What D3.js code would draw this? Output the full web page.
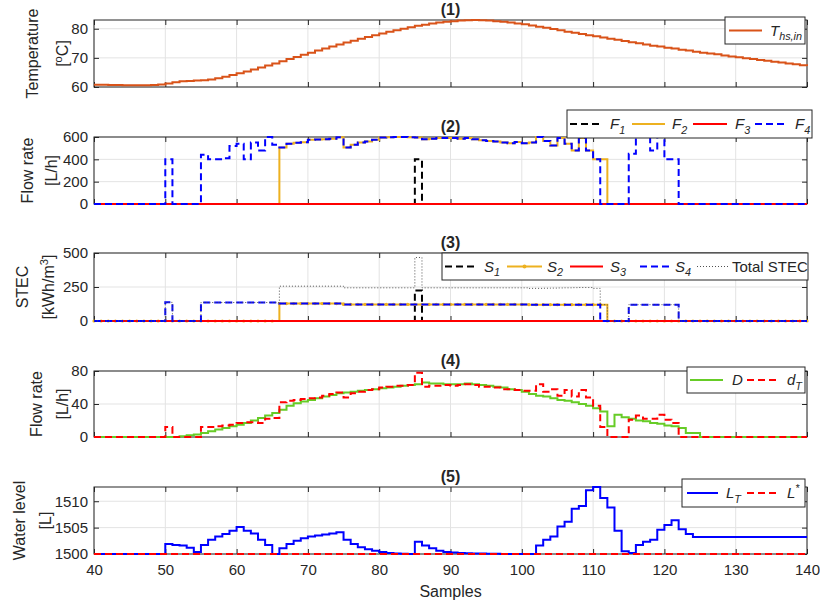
<!DOCTYPE html>
<html><head><meta charset="utf-8">
<script src="https://cdn.jsdelivr.net/npm/d3@7"></script>
<style>
body{margin:0;background:#fff;}
text{font-family:"Liberation Sans",Arial,Helvetica,sans-serif;fill:#262626;}
</style>
</head><body>
<svg id="chart" width="820" height="609"></svg>
<script>
// ---------------- DATA (samples 40..140) ----------------
const samples = d3.range(40, 141);
const xTickValues = [40,50,60,70,80,90,100,110,120,130,140];

const tempHsIn = [
 60.8,60.8,60.7,60.7,60.6,60.6,60.6,60.6,60.7,60.9,
 61.2,61.6,62.0,62.1,62.2,62.3,62.6,63.0,63.5,64.1,
 64.7,65.3,66.0,66.7,67.4,68.1,68.8,69.6,70.3,71.1,
 71.8,72.5,73.2,73.9,74.6,75.3,75.9,76.6,77.2,77.8,
 78.4,79.0,79.5,80.0,80.5,81.0,81.4,81.8,82.1,82.4,
 82.6,82.8,82.9,83.0,82.9,82.8,82.6,82.4,82.1,81.8,
 81.5,81.1,80.7,80.3,79.9,79.5,79.0,78.6,78.2,77.8,
 77.4,77.0,76.6,76.2,75.8,75.4,75.0,74.6,74.2,73.9,
 73.5,73.2,72.8,72.5,72.1,71.8,71.5,71.2,70.8,70.5,
 70.2,69.9,69.6,69.3,69.0,68.7,68.4,68.1,67.8,67.5,
 67.2];

const flowF1 = [
 0,0,0,0,0,0,0,0,0,0, 0,0,0,0,0,0,0,0,0,0, 0,0,0,0,0,0,0,0,0,0,
 0,0,0,0,0,0,0,0,0,0, 0,0,0,0,0,400,0,0,0,0, 0,0,0,0,0,0,0,0,0,0,
 0,0,0,0,0,0,0,0,0,0, 0,0,0,0,0,0,0,0,0,0, 0,0,0,0,0,0,0,0,0,0,
 0,0,0,0,0,0,0,0,0,0, 0];
const flowF2 = [
 0,0,0,0,0,0,0,0,0,0,
 0,0,0,0,0,0,0,0,0,0,
 0,0,0,0,0,0,505,540,548,552,
 575,578,580,585,598,505,530,550,560,575,
 595,598,600,600,598,595,580,585,590,592,
 590,585,590,580,570,565,560,550,545,555,
 545,550,600,565,525,590,540,480,590,480,
 400,400,0,0,0,0,0,0,0,0,
 0,0,0,0,0,0,0,0,0,0,
 0,0,0,0,0,0,0,0,0,0,
 0];
const flowF3 = [
 0,0,0,0,0,0,0,0,0,0, 0,0,0,0,0,0,0,0,0,0, 0,0,0,0,0,0,0,0,0,0,
 0,0,0,0,0,0,0,0,0,0, 0,0,0,0,0,0,0,0,0,0, 0,0,0,0,0,0,0,0,0,0,
 0,0,0,0,0,0,0,0,0,0, 0,0,0,0,0,0,0,0,0,0, 0,0,0,0,0,0,0,0,0,0,
 0,0,0,0,0,0,0,0,0,0, 0];
const flowF4 = [
 0,0,0,0,0,0,0,0,0,0,
 400,0,0,0,0,440,400,400,410,520,
 540,400,550,480,600,530,505,540,548,552,
 575,578,580,585,598,505,530,550,560,575,
 595,598,600,600,598,595,580,585,590,592,
 590,585,590,580,570,565,560,550,545,555,
 545,550,600,565,525,590,540,480,590,480,
 400,0,0,0,0,450,600,600,480,600,
 400,400,0,0,0,0,0,0,0,0,
 0,0,0,0,0,0,0,0,0,0,
 0];

const stecS1 = [
 0,0,0,0,0,0,0,0,0,0, 0,0,0,0,0,0,0,0,0,0, 0,0,0,0,0,0,0,0,0,0,
 0,0,0,0,0,0,0,0,0,0, 0,0,0,0,0,225,0,0,0,0, 0,0,0,0,0,0,0,0,0,0,
 0,0,0,0,0,0,0,0,0,0, 0,0,0,0,0,0,0,0,0,0, 0,0,0,0,0,0,0,0,0,0,
 0,0,0,0,0,0,0,0,0,0, 0];
const stecS2 = [
 0,0,0,0,0,0,0,0,0,0,
 0,0,0,0,0,0,0,0,0,0,
 0,0,0,0,0,0,128,128,128,128,
 128,128,128,128,128,122,122,122,122,122,
 122,122,122,122,122,122,122,122,122,122,
 122,122,122,122,122,122,122,122,122,122,
 122,120,120,120,120,120,120,120,120,120,
 120,120,0,0,0,0,0,0,0,0,
 0,0,0,0,0,0,0,0,0,0,
 0,0,0,0,0,0,0,0,0,0,
 0];
const stecS3 = [
 0,0,0,0,0,0,0,0,0,0, 0,0,0,0,0,0,0,0,0,0, 0,0,0,0,0,0,0,0,0,0,
 0,0,0,0,0,0,0,0,0,0, 0,0,0,0,0,0,0,0,0,0, 0,0,0,0,0,0,0,0,0,0,
 0,0,0,0,0,0,0,0,0,0, 0,0,0,0,0,0,0,0,0,0, 0,0,0,0,0,0,0,0,0,0,
 0,0,0,0,0,0,0,0,0,0, 0];
const stecS4 = [
 0,0,0,0,0,0,0,0,0,0,
 137,0,0,0,0,136,136,136,136,136,
 136,136,136,136,136,136,128,128,128,128,
 128,128,128,128,128,122,122,122,122,122,
 122,122,122,122,122,122,122,122,122,122,
 122,122,122,122,122,122,122,122,122,122,
 122,120,120,120,120,120,120,120,120,120,
 120,0,0,0,0,120,120,120,120,120,
 120,120,0,0,0,0,0,0,0,0,
 0,0,0,0,0,0,0,0,0,0,
 0];
const stecTotal = [
 0,0,0,0,0,0,0,0,0,0,
 137,0,0,0,0,136,136,136,136,136,
 136,136,136,136,136,136,256,256,256,256,
 256,256,256,256,256,244,244,244,244,244,
 244,244,244,244,244,467,244,244,244,244,
 244,244,244,244,244,244,244,244,244,244,
 244,240,240,241,242,243,244,245,246,246,
 240,120,0,0,0,120,120,120,120,120,
 120,120,0,0,0,0,0,0,0,0,
 0,0,0,0,0,0,0,0,0,0,
 0];

const demandD = [
 0,0,0,0,0,0,0,0,0,0,
 0,0,1,2,3,5,7,9,11,13,
 15,17,20,23,26,29,33,38,41,43,
 45,47,49,51,53,54,55,56,57,58,
 59,60,61,62,63,64,66,65,65,64,
 64,64,65,64,63,62,61,60,58,57,
 55,52,50,49,47,45,44,42,40,38,
 35,31,13,27,24,22,20,19,17,16,
 14,13,11,5,5,0,0,0,0,0,
 0,0,0,0,0,0,0,0,0,0,
 0];
const demandDT = [
 0,0,0,0,0,0,0,0,0,0,
 12,0,0,0,0,12,12,13,14,15,
 17,18,18,17,22,23,42,44,45,46,
 47,48,50,52,54,48,53,55,57,58,
 60,61,62,62,63,78,61,62,62,63,
 62,63,64,63,61,61,60,58,58,57,
 56,56,64,55,58,50,57,49,57,48,
 38,12,0,0,0,21,26,22,22,27,
 21,17,0,0,0,0,0,0,0,0,
 0,0,0,0,0,0,0,0,0,0,
 0];

const levelLT = [
 1500,1500,1500,1500,1500,1500,1500,1500,1500,1500,
 1501.9,1501.7,1501.6,1501.2,1500.4,1501.7,1502.7,1503.3,1503.8,1504.4,
 1505.1,1504.4,1503.9,1502.7,1501.7,1500.0,1501.1,1501.9,1502.5,1503.0,
 1503.3,1503.5,1503.7,1503.9,1504.1,1502.7,1501.9,1501.3,1500.9,1500.6,
 1500.4,1500.2,1500.1,1500.05,1500.0,1502.3,1501.6,1501.1,1500.6,1500.4,
 1500.3,1500.2,1500.15,1500.1,1500.1,1500.05,1500.05,1500,1500,1500,
 1500,1500,1501.6,1502.7,1503.3,1505.2,1506.1,1508.6,1509.1,1512.1,
 1512.7,1510.6,1508.8,1504.4,1500.5,1500.2,1501.7,1502.3,1502.7,1504.6,
 1505.5,1506.4,1504.7,1503.8,1503.2,1503.2,1503.2,1503.2,1503.2,1503.2,
 1503.2,1503.2,1503.2,1503.2,1503.2,1503.2,1503.2,1503.2,1503.2,1503.2,
 1503.2];
const levelRef = [
 1500,1500,1500,1500,1500,1500,1500,1500,1500,1500, 1500,1500,1500,1500,1500,1500,1500,1500,1500,1500,
 1500,1500,1500,1500,1500,1500,1500,1500,1500,1500, 1500,1500,1500,1500,1500,1500,1500,1500,1500,1500,
 1500,1500,1500,1500,1500,1500,1500,1500,1500,1500, 1500,1500,1500,1500,1500,1500,1500,1500,1500,1500,
 1500,1500,1500,1500,1500,1500,1500,1500,1500,1500, 1500,1500,1500,1500,1500,1500,1500,1500,1500,1500,
 1500,1500,1500,1500,1500,1500,1500,1500,1500,1500, 1500,1500,1500,1500,1500,1500,1500,1500,1500,1500,
 1500];

const yTicks1 = [60,70,80];
const yTicks2 = [0,200,400,600];
const yTicks3 = [0,250,500];
const yTicks4 = [0,40,80];
const yTicks5 = [1500,1505,1510];

// ---------------- STYLE / LAYOUT ----------------
const C = {orange:"#D95319", yellow:"#EDB120", red:"#FF0000", blue:"#0000FF", black:"#000000", green:"#66CC26", gray:"#505050"};
const DASH = "7,4";
const X0 = 94, X1 = 807;
const svg = d3.select("#chart");
const x = d3.scaleLinear().domain([40,140]).range([X0,X1]);

const panels = [
 {top:20, bottom:87, domain:[60,83], ticks:yTicks1, title:"(1)", lab:[38,68],
  label:["Temperature", [["[",""],["o","sup"],["C]",""]]],
  series:[{v:tempHsIn, color:C.orange, w:2}],
  legend:{x:725,y:17,w:80,h:27, items:[{x1:729,x2:762,tx:770,color:C.orange,w:2, txt:[["T",""],["hs,in","sub"]]}]}},
 {top:137, bottom:204, domain:[0,600], ticks:yTicks2, title:"(2)", lab:[33,57],
  label:["Flow rate", [["[L/h]",""]]],
  series:[{v:flowF1,color:C.black,w:2,dash:DASH},{v:flowF2,color:C.yellow,w:2},{v:flowF3,color:C.red,w:2},{v:flowF4,color:C.blue,w:2,dash:DASH}],
  legend:{x:567,y:110,w:245,h:28, items:[
   {x1:570,x2:603,tx:610,color:C.black,w:2,dash:DASH,txt:[["F",""],["1","sub"]]},
   {x1:632,x2:665,tx:672,color:C.yellow,w:2,txt:[["F",""],["2","sub"]]},
   {x1:693,x2:727,tx:735,color:C.red,w:2,txt:[["F",""],["3","sub"]]},
   {x1:755,x2:788,tx:795,color:C.blue,w:2,dash:DASH,txt:[["F",""],["4","sub"]]}]}},
 {top:253, bottom:321, domain:[0,500], ticks:yTicks3, title:"(3)", lab:[28,54],
  label:["STEC", [["[kWh/m",""],["3","sup"],["]",""]]],
  series:[{v:stecS1,color:C.black,w:2,dash:DASH},{v:stecS2,color:C.yellow,w:2,dots:true},{v:stecS3,color:C.red,w:2},{v:stecS4,color:C.blue,w:2,dash:DASH},{v:stecTotal,color:C.gray,w:1,dash:"1,2"}],
  legend:{x:442,y:253,w:366,h:27, items:[
   {x1:445,x2:478,tx:484,color:C.black,w:2,dash:DASH,txt:[["S",""],["1","sub"]]},
   {x1:507,x2:542,tx:547,color:C.yellow,w:2,dots:true,txt:[["S",""],["2","sub"]]},
   {x1:570,x2:603,tx:610,color:C.red,w:2,txt:[["S",""],["3","sub"]]},
   {x1:640,x2:673,tx:675,color:C.blue,w:2,dash:DASH,txt:[["S",""],["4","sub"]]},
   {x1:697,x2:728,tx:732,color:C.gray,w:1,dash:"1,2",plain:"Total STEC"}]}},
 {top:371, bottom:437, domain:[0,80], ticks:yTicks4, title:"(4)", lab:[42,68],
  label:["Flow rate", [["[L/h]",""]]],
  series:[{v:demandD,color:C.green,w:2},{v:demandDT,color:C.red,w:2,dash:DASH}],
  legend:{x:687,y:367,w:118,h:26, items:[
   {x1:690,x2:723,tx:732,color:C.green,w:2,txt:[["D",""]]},
   {x1:747,x2:778,tx:787,color:C.red,w:2,dash:DASH,txt:[["d",""],["T","sub"]]}]}},
 {top:487, bottom:554, domain:[1500,d3.max(levelLT)], ticks:yTicks5, title:"(5)", lab:[25,51],
  label:["Water level", [["[L]",""]]],
  series:[{v:levelLT,color:C.blue,w:2},{v:levelRef,color:C.red,w:2,dash:DASH}],
  legend:{x:682,y:479,w:123,h:28, items:[
   {x1:687,x2:718,tx:726,color:C.blue,w:2,txt:[["L",""],["T","sub"]]},
   {x1:747,x2:780,tx:787,color:C.red,w:2,dash:DASH,txt:[["L",""],["*","sup"]]}]}}
];

function addRich(textSel, parts, base, italic){
  let cum = 0;
  parts.forEach(([s,kind])=>{
    const t = textSel.append("tspan").text(s);
    if(italic) t.attr("font-style","italic");
    let target = 0, fs = base;
    if(kind==="sub"){ target = base*0.3; fs = base*0.72; }
    else if(kind==="sup"){ target = -base*0.4; fs = base*0.7; }
    t.attr("font-size",fs).attr("dy", target - cum);
    cum = target;
  });
}

panels.forEach((p,i)=>{
  const g = svg.append("g");
  const y = d3.scaleLinear().domain(p.domain).range([p.bottom,p.top]);
  const clipId = "clip"+i;
  svg.append("clipPath").attr("id",clipId).append("rect")
     .attr("x",X0-2).attr("y",p.top-2).attr("width",X1-X0+4).attr("height",p.bottom-p.top+4);

  // grid
  g.append("g").selectAll("line").data(xTickValues).join("line")
    .attr("x1",d=>x(d)).attr("x2",d=>x(d)).attr("y1",p.top).attr("y2",p.bottom)
    .attr("stroke","#e3e3e3").attr("stroke-width",1);
  g.append("g").selectAll("line").data(p.ticks).join("line")
    .attr("x1",X0).attr("x2",X1).attr("y1",d=>y(d)).attr("y2",d=>y(d))
    .attr("stroke","#e3e3e3").attr("stroke-width",1);

  // axes box + ticks (inside), drawn beneath the data
  const last = i===panels.length-1;
  g.append("rect").attr("x",X0).attr("y",p.top).attr("width",X1-X0).attr("height",p.bottom-p.top)
    .attr("fill","none").attr("stroke","#262626").attr("stroke-width",1);
  const axB = g.append("g").attr("transform",`translate(0,${p.bottom})`)
    .call(d3.axisBottom(x).tickValues(xTickValues).tickSize(-5).tickSizeOuter(0).tickPadding(10)
      .tickFormat(last? d3.format("d") : ()=>""));
  const axT = g.append("g").attr("transform",`translate(0,${p.top})`)
    .call(d3.axisTop(x).tickValues(xTickValues).tickSize(-5).tickSizeOuter(0).tickFormat(()=>""));
  const axL = g.append("g").attr("transform",`translate(${X0},0)`)
    .call(d3.axisLeft(y).tickValues(p.ticks).tickSize(-5).tickSizeOuter(0).tickPadding(6).tickFormat(d3.format("d")));
  const axR = g.append("g").attr("transform",`translate(${X1},0)`)
    .call(d3.axisRight(y).tickValues(p.ticks).tickSize(-5).tickSizeOuter(0).tickFormat(()=>""));
  [axB,axT,axL,axR].forEach(a=>{
    a.select(".domain").remove();
    a.selectAll(".tick line").attr("stroke","#262626");
    a.selectAll(".tick text").attr("fill","#262626").attr("font-size",15)
      .attr("font-family","Liberation Sans, Arial, sans-serif");
  });

  // series
  const dg = g.append("g").attr("clip-path",`url(#${clipId})`);
  p.series.forEach(s=>{
    const line = d3.line().x((d,j)=>x(samples[j])).y(d=>y(d)).curve(d3.curveStepAfter);
    dg.append("path").datum(s.v).attr("d",line).attr("fill","none")
      .attr("stroke",s.color).attr("stroke-width",s.w)
      .attr("stroke-dasharray",s.dash||null);
    if(s.dots){
      dg.append("g").selectAll("circle").data(s.v).join("circle")
        .attr("cx",(d,j)=>x(samples[j])).attr("cy",d=>y(d)).attr("r",1.6).attr("fill",s.color);
    }
  });

  // title
  g.append("text").attr("x",(X0+X1)/2).attr("y",p.top-5).attr("text-anchor","middle")
    .attr("font-weight","bold").attr("font-size",16).text(p.title);

  // y label (two lines)
  const cy = (p.top+p.bottom)/2;
  g.append("text").attr("transform",`translate(${p.lab[0]},${cy}) rotate(-90)`)
    .attr("text-anchor","middle").attr("font-size",16).text(p.label[0]);
  const t2 = g.append("text").attr("transform",`translate(${p.lab[1]},${cy}) rotate(-90)`)
    .attr("text-anchor","middle").attr("font-size",16);
  addRich(t2, p.label[1], 16, false);

  // legend
  const L = p.legend;
  const lg = g.append("g");
  lg.append("rect").attr("x",L.x).attr("y",L.y).attr("width",L.w).attr("height",L.h)
    .attr("fill","#fff").attr("stroke","#262626").attr("stroke-width",1);
  const ly = L.y + L.h/2;
  L.items.forEach(it=>{
    lg.append("line").attr("x1",it.x1).attr("x2",it.x2).attr("y1",ly).attr("y2",ly)
      .attr("stroke",it.color).attr("stroke-width",it.w).attr("stroke-dasharray",it.dash||null);
    if(it.dots) lg.append("circle").attr("cx",(it.x1+it.x2)/2).attr("cy",ly).attr("r",2).attr("fill",it.color);
    const tt = lg.append("text").attr("x",it.tx).attr("y",ly+5).attr("font-size",15);
    if(it.plain) tt.text(it.plain);
    else addRich(tt, it.txt, 15, true);
  });
});

// x-axis label
svg.append("text").attr("x",(X0+X1)/2).attr("y",597).attr("text-anchor","middle")
  .attr("font-size",16).text("Samples");
</script>
</body></html>
